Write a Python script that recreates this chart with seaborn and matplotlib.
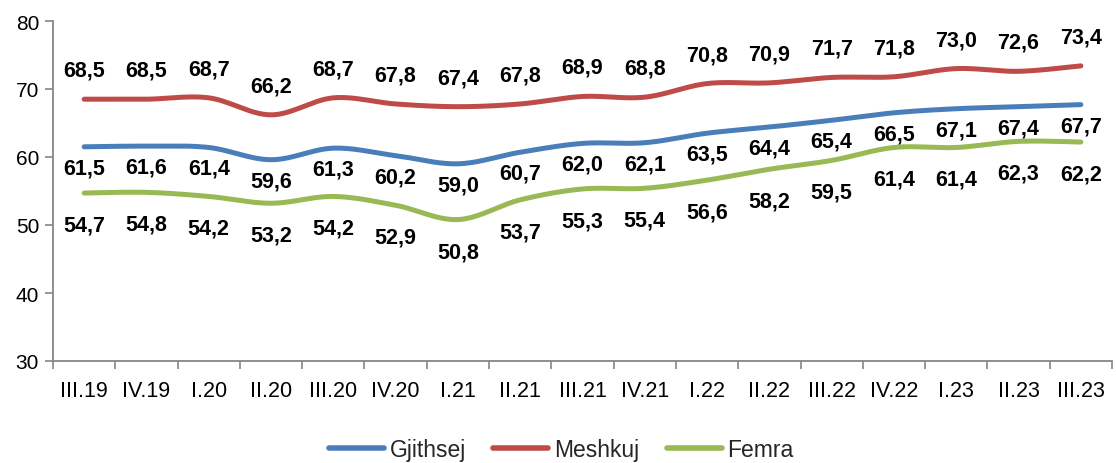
import numpy as np
import pandas as pd
import matplotlib
matplotlib.use("Agg")
import matplotlib.pyplot as plt
import seaborn as sns
from matplotlib.lines import Line2D
from matplotlib.ticker import FixedLocator

categories = ["III.19", "IV.19", "I.20", "II.20", "III.20", "IV.20", "I.21", "II.21",
              "III.21", "IV.21", "I.22", "II.22", "III.22", "IV.22", "I.23", "II.23", "III.23"]
gjithsej = [61.5, 61.6, 61.4, 59.6, 61.3, 60.2, 59.0, 60.7, 62.0, 62.1, 63.5, 64.4, 65.4, 66.5, 67.1, 67.4, 67.7]
meshkuj = [68.5, 68.5, 68.7, 66.2, 68.7, 67.8, 67.4, 67.8, 68.9, 68.8, 70.8, 70.9, 71.7, 71.8, 73.0, 72.6, 73.4]
femra = [54.7, 54.8, 54.2, 53.2, 54.2, 52.9, 50.8, 53.7, 55.3, 55.4, 56.6, 58.2, 59.5, 61.4, 61.4, 62.3, 62.2]
series_names = ["Gjithsej", "Meshkuj", "Femra"]
colors = {"Gjithsej": "#4A7EBB", "Meshkuj": "#BE4B48", "Femra": "#98B954"}
label_offsets = {"Gjithsej": -21, "Meshkuj": 29, "Femra": -32}

sns.set_theme(style="white")
plt.rcParams["font.family"] = ["Liberation Sans", "DejaVu Sans"]


def smooth(y, n=30):
    """Catmull-Rom (Excel-like) smoothing through the data points."""
    x = np.arange(len(y), dtype=float)
    y = np.asarray(y, dtype=float)
    pts = np.column_stack([x, y])
    out = []
    for i in range(len(pts) - 1):
        p0 = pts[i - 1] if i > 0 else pts[i]
        p1 = pts[i]
        p2 = pts[i + 1]
        p3 = pts[i + 2] if i + 2 < len(pts) else pts[i + 1]
        c1 = p1 + (p2 - p0) / 6.0
        c2 = p2 - (p3 - p1) / 6.0
        t = np.linspace(0, 1, n, endpoint=(i == len(pts) - 2))[:, None]
        b = (1 - t) ** 3 * p1 + 3 * (1 - t) ** 2 * t * c1 + 3 * (1 - t) * t ** 2 * c2 + t ** 3 * p2
        out.append(b)
    return np.vstack(out)


data = {"Gjithsej": gjithsej, "Meshkuj": meshkuj, "Femra": femra}
frames = []
for name in series_names:
    c = smooth(data[name])
    frames.append(pd.DataFrame({"x": c[:, 0], "y": c[:, 1], "series": name}))
df = pd.concat(frames, ignore_index=True)

fig = plt.figure(figsize=(11.16, 4.64), dpi=100)
ax = fig.add_axes([53 / 1116, 1 - 362 / 464, (1112 - 53) / 1116, (362 - 22) / 464])

sns.lineplot(data=df, x="x", y="y", hue="series", hue_order=series_names, palette=colors,
             sort=False, estimator=None, linewidth=3.6, ax=ax, legend=False,
             solid_capstyle="round")

for name in series_names:
    for i, v in enumerate(data[name]):
        ax.annotate(f"{v:.1f}".replace(".", ","), (i, v), xytext=(0, label_offsets[name]),
                    textcoords="offset pixels", ha="center", va="center",
                    fontsize=15.5, fontweight="bold", color="black")

ax.set_xlim(-0.5, len(categories) - 0.5)
ax.set_ylim(30, 80)
ax.set_yticks(range(30, 81, 10))
ax.set_xticks(range(len(categories)))
ax.set_xticklabels(categories)
ax.xaxis.set_minor_locator(FixedLocator(np.arange(-0.5, len(categories), 1.0)))
ax.tick_params(axis="x", which="major", length=0, pad=14, labelsize=15.5, colors="black")
ax.tick_params(axis="x", which="minor", length=6, width=1.2, color="#868686", bottom=True)
ax.tick_params(axis="y", which="major", length=6, width=1.2, color="#868686", left=True,
               labelsize=15, labelcolor="black", pad=4)
ax.set_xlabel("")
ax.set_ylabel("")
for s in ["top", "right"]:
    ax.spines[s].set_visible(False)
for s in ["left", "bottom"]:
    ax.spines[s].set_color("#868686")
    ax.spines[s].set_linewidth(1.3)

handles = [Line2D([0], [0], color=colors[n], lw=4, solid_capstyle="round") for n in series_names]
fig.legend(handles, series_names, loc="center", bbox_to_anchor=(0.503, 0.03), ncol=3,
           frameon=False, fontsize=16.5, handlelength=2.4, handletextpad=0.25,
           columnspacing=1.2, borderpad=0.2)

fig.savefig("out.png", dpi=100)
